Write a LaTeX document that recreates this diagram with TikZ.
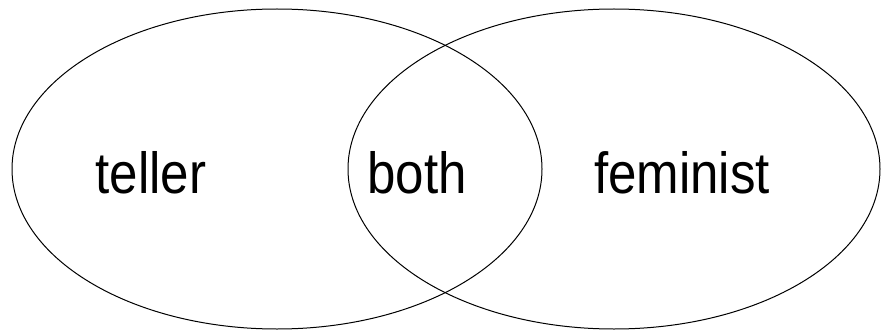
\documentclass[tikz,border=0pt]{standalone}
\usepackage{fontspec}
\setmainfont{Liberation Sans}
\usetikzlibrary{shapes.geometric}

\begin{document}
\begin{tikzpicture}[x=1pt,y=1pt,
every node/.style={inner sep=0pt},
setring/.style={ellipse,draw,line width=1pt,minimum width=530pt,minimum height=320pt},
lbl/.style={font=\fontsize{58}{60}\selectfont,anchor=base,xscale=.88,transform shape}]
\useasboundingbox (0,0) rectangle (881,330);
\node[setring] (T) at (277,161) {};
\node[setring,minimum width=532pt] (F) at (614,161) {};
\node[lbl] (teller) at (151,137) {teller};
\node[lbl] (both) at (417,137) {both};
\node[lbl] (feminist) at (682,137) {feminist};
\end{tikzpicture}
\end{document}
